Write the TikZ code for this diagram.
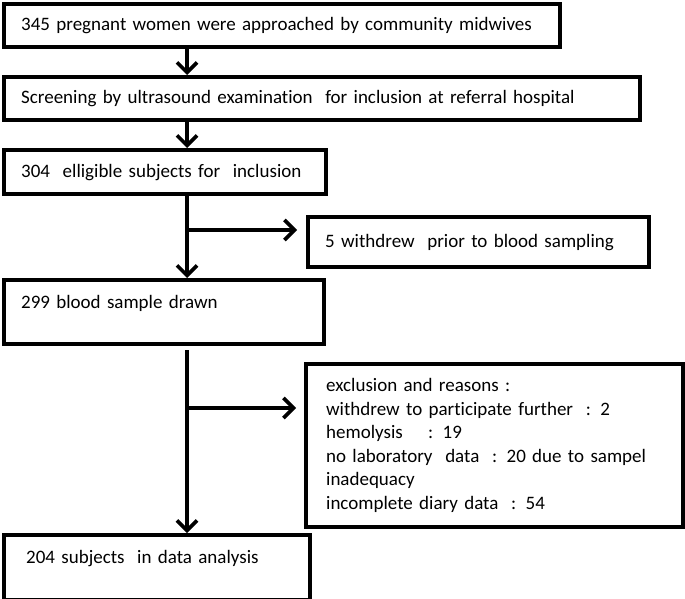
\documentclass[tikz,border=0pt]{standalone}
\usepackage{fontspec}
\setmainfont{Carlito}[Ligatures=NoCommon]
\usetikzlibrary{arrows.meta}
\usetikzlibrary{positioning}

\tikzset{
  box/.style={draw, line width=4.3pt, anchor=north west, inner xsep=17pt,
    inner ysep=0pt, align=left, font=\fontsize{19}{23.5}\selectfont},
  arr/.style={line width=3.7pt, -{Straight Barb[length=10pt, width=20pt]}}
}

\begin{document}
\begin{tikzpicture}[x=1pt, y=-1pt]
  \useasboundingbox (0,0) rectangle (685,599);
  % boxes
  \node[box, text width=522pt, minimum height=43pt] (approached) at (2,2)
    {345 pregnant women were approached by community midwives};
  \node[box, text width=602pt, minimum height=43pt] (screening) at (2,75)
    {Screening by ultrasound examination\ \ for inclusion at referral hospital};
  \node[box, text width=288pt, minimum height=44pt] (eligible) at (2,148)
    {304\ \ elligible subjects for\ \ inclusion};
  \node[box, text width=307pt, minimum height=50pt] (withdrew) at (306,215)
    {5 withdrew\ \ prior to blood sampling};
  \node[box, text width=286pt, minimum height=64pt, text depth=20pt] (sample) at (2,278)
    {299 blood sample drawn};
  \node[box, text width=337pt, inner xsep=20pt, minimum height=163pt] (exclusion) at (304,362)
    {exclusion and reasons :\\
     withdrew to participate further\ \ : 2\\
     hemolysis\ \ \ \ : 19\\
     no laboratory\ \ data\ \ : 20 due to sampel\\
     inadequacy\\
     incomplete diary data\ \ : 54};
  \node[box, text width=262pt, inner xsep=22pt, minimum height=65pt, text depth=21pt] (analysis) at (2,533)
    {204 subjects\ \ in data analysis};
  % connectors
  \coordinate (col) at (187,0);
  \coordinate (branchA) at (187,230);
  \coordinate (branchB) at (187,408);
  \draw[arr] (approached.south -| col) -- (screening.north -| col);
  \draw[arr] (screening.south -| col) -- (eligible.north -| col);
  \draw[arr] (eligible.south -| col) -- (sample.north -| col);
  \draw[arr, shorten >=9pt] (branchA) -- (withdrew.west |- branchA);
  \draw[arr, shorten <=4pt] (sample.south -| col) -- (analysis.north -| col);
  \draw[arr, shorten >=8pt] (branchB) -- (exclusion.west |- branchB);
\end{tikzpicture}
\end{document}
